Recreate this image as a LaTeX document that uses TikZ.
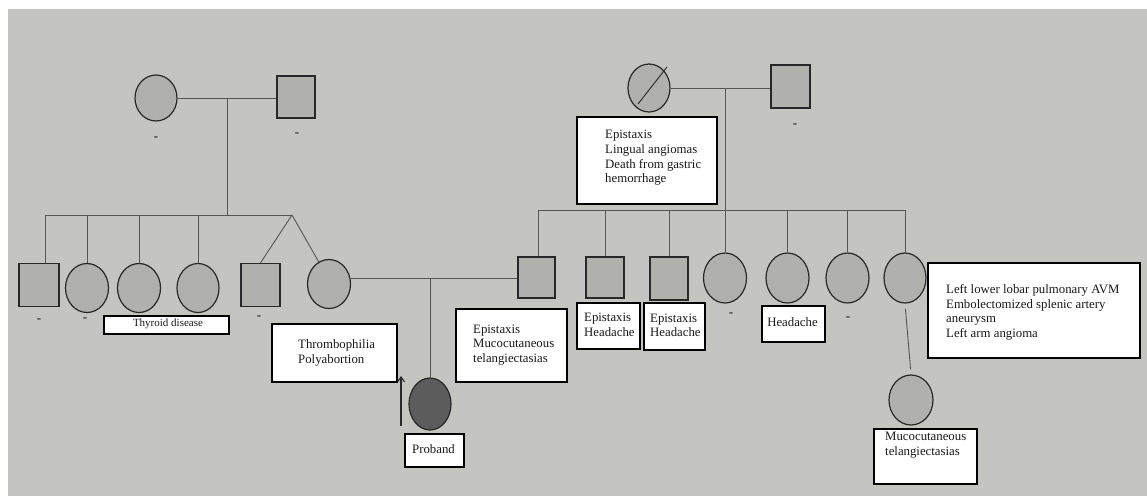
\documentclass[tikz,border=0pt]{standalone}
\usepackage{fontspec}
\setmainfont{Liberation Serif}
\usetikzlibrary{shapes.geometric,arrows.meta,calc}
\definecolor{paper}{RGB}{196,197,192}
\definecolor{shade}{RGB}{176,177,173}
\definecolor{probfill}{RGB}{92,92,92}
\definecolor{ink}{RGB}{40,40,40}
\definecolor{wirecol}{RGB}{85,85,85}
\tikzset{
  female/.style={ellipse, draw=ink, line width=1.2pt, fill=shade, minimum width=42pt, minimum height=49pt, inner sep=0pt},
  male/.style={rectangle, draw=ink, line width=1.2pt, fill=shade, minimum width=38pt, minimum height=42pt, inner sep=0pt},
  wire/.style={draw=wirecol, line width=0.9pt},
  labelbox/.style={rectangle, draw=black, line width=1.8pt, fill=white, inner sep=0pt, anchor=north west},
  txt/.style={font=\fontsize{12.8}{14.6}\selectfont, align=left, inner sep=0pt, text=black!90},
  smalltxt/.style={font=\fontsize{11}{13}\selectfont, inner sep=0pt, text=black!90},
  dashmark/.style={font=\fontsize{13}{13}\selectfont\bfseries, inner sep=0pt, text=black!85}
}
\begin{document}
\begin{tikzpicture}[x=1pt,y=-1pt]
\useasboundingbox (0,0) rectangle (1147,496);
\fill[white] (0,0) rectangle (1147,496);
\fill[paper] (8,9) rectangle (1147,496);

% ---------- Generation I, left couple ----------
\node[female, minimum width=42pt, minimum height=46pt] (I1) at (156,98) {};
\node[male, minimum width=38pt, minimum height=42pt] (I2) at (296,97) {};
\node[dashmark] (I1d) at (156,139) {-};
\node[dashmark] (I2d) at (297,135) {-};
\coordinate (m1) at (227,98);
\coordinate (s1) at (227,215);
\coordinate (sL1) at (45,215);
\coordinate (sR1) at (292,215);
\draw[wire] (I1.east) -- (I1.east -| I2.west);
\draw[wire] (m1) -- (s1);
\draw[wire] (sL1) -- (sR1);

% ---------- Generation I, right couple ----------
\node[female, minimum width=42pt, minimum height=48pt] (I3) at (649,88) {};
\draw[ink, line width=0.9pt] ($(I3.center)+(-11,16)$) -- ($(I3.center)+(18,-21)$);
\node[male, minimum width=39pt, minimum height=43pt] (I4) at (790.5,86.5) {};
\node[dashmark] (I4d) at (795,126) {-};
\coordinate (m2) at (725,88);
\coordinate (sL2) at (538,210);
\coordinate (sR2) at (905,210);
\draw[wire] (I3.east) -- (I3.east -| I4.west);
\draw[wire] (sL2) -- (sR2);

\node[labelbox, minimum width=140pt, minimum height=87pt] (I3box) at (576,116) {};
\node[txt, anchor=west] (I3txt) at (605,158) {Epistaxis\\Lingual angiomas\\Death from gastric\\hemorrhage};

% ---------- Generation II, left sibship ----------
\node[male, minimum width=40pt, minimum height=43pt] (II1) at (39,285) {};
\node[female, minimum width=43pt, minimum height=49pt] (II2) at (87,288) {};
\node[female, minimum width=43pt, minimum height=49pt] (II3) at (139,288) {};
\node[female, minimum width=42pt, minimum height=49pt] (II4) at (198,288) {};
\node[male, minimum width=39pt, minimum height=43pt] (II5) at (260.5,285) {};
\node[female, minimum width=43pt, minimum height=49pt] (II6) at (329,284) {};
\draw[wire] (sL1) -- (sL1 |- II1.north);
\draw[wire] (II2.north |- sL1) -- (II2.north);
\draw[wire] (II3.north |- sL1) -- (II3.north);
\draw[wire] (II4.north |- sL1) -- (II4.north);
\draw[wire] (sR1) -- (II5.north);
\draw[wire] (sR1) -- (II6.115);
\node[dashmark] (II1d) at (39,321) {-};
\node[dashmark] (II2d) at (85,320) {-};
\node[dashmark] (II5d) at (259,318) {-};
\node[labelbox, minimum width=125pt, minimum height=18pt] (II3box) at (103,315) {};
\node[smalltxt] (II3txt) at (168,324) {Thyroid disease};

\node[labelbox, minimum width=125pt, minimum height=58pt] (II6box) at (271,323) {};
\node[txt, anchor=west] (II6txt) at (298,353) {Thrombophilia\\Polyabortion};

% ---------- Generation II, right sibship ----------
\node[male, minimum width=37pt, minimum height=41pt] (II7) at (536.5,277.5) {};
\node[male, minimum width=38pt, minimum height=41pt] (II8) at (605,277.5) {};
\node[male, minimum width=38pt, minimum height=43pt] (II9) at (669,278.5) {};
\node[female, minimum width=43pt, minimum height=50pt] (II10) at (725,278) {};
\node[female, minimum width=43pt, minimum height=50pt] (II11) at (787.5,278) {};
\node[female, minimum width=43pt, minimum height=50pt] (II12) at (847.5,278) {};
\node[female, minimum width=42pt, minimum height=50pt] (II13) at (905,278) {};
\draw[wire] (sL2) -- (sL2 |- II7.north);
\draw[wire] (II8.north |- sL2) -- (II8.north);
\draw[wire] (II9.north |- sL2) -- (II9.north);
\draw[wire] (m2) -- (II10.north);
\draw[wire] (II11.north |- sL2) -- (II11.north);
\draw[wire] (II12.north |- sL2) -- (II12.north);
\draw[wire] (sR2) -- (II13.north);

\node[labelbox, minimum width=111pt, minimum height=73pt] (II7box) at (455,308) {};
\node[txt, anchor=west] (II7txt) at (473,345) {Epistaxis\\Mucocutaneous\\telangiectasias};

\node[labelbox, minimum width=63pt, minimum height=46pt] (II8box) at (576,302) {};
\node[txt, anchor=west] (II8txt) at (584,325) {Epistaxis\\Headache};
\node[labelbox, minimum width=61pt, minimum height=47pt] (II9box) at (643,302) {};
\node[txt, anchor=west] (II9txt) at (650,325.5) {Epistaxis\\Headache};
\node[dashmark] (II10d) at (731,315) {-};
\node[labelbox, minimum width=63pt, minimum height=36pt] (II11box) at (761,305) {};
\node[txt] (II11txt) at (792.5,322) {Headache};
\node[dashmark] (II12d) at (848,319) {-};
\node[labelbox, minimum width=212pt, minimum height=95pt] (II13box) at (927,262) {};
\node[txt, anchor=west] (II13txt) at (946,312.5) {Left lower lobar pulmonary AVM\\Embolectomized splenic artery\\aneurysm\\Left arm angioma};

% ---------- marriage II6 x II7 and Generation III ----------
\coordinate (m3) at (430,278);
\draw[wire] (m3 -| II6.east) -- (m3 -| II7.west);
\node[female, fill=probfill, minimum width=42pt, minimum height=52pt] (III1) at (430,404) {};
\draw[wire] (m3) -- (III1.north);
\coordinate (arrA) at (401,426);
\coordinate (arrB) at (401,376);
\draw[ink, line width=1.1pt, -{Straight Barb[length=5pt,width=7pt]}] (arrA) -- (arrB);
\node[labelbox, minimum width=59pt, minimum height=33pt] (III1box) at (404,433) {};
\node[txt] (III1txt) at (433.5,449.5) {Proband};

\node[female, minimum width=44pt, minimum height=50pt] (III2) at (911,400) {};
\draw[wire, shorten <=5pt, shorten >=5pt] (II13.south) -- (III2.north);
\node[labelbox, minimum width=103pt, minimum height=55pt] (III2box) at (873,428) {};
\node[txt, anchor=north west] (III2txt) at (885,432) {Mucocutaneous\\telangiectasias};
\end{tikzpicture}
\end{document}
